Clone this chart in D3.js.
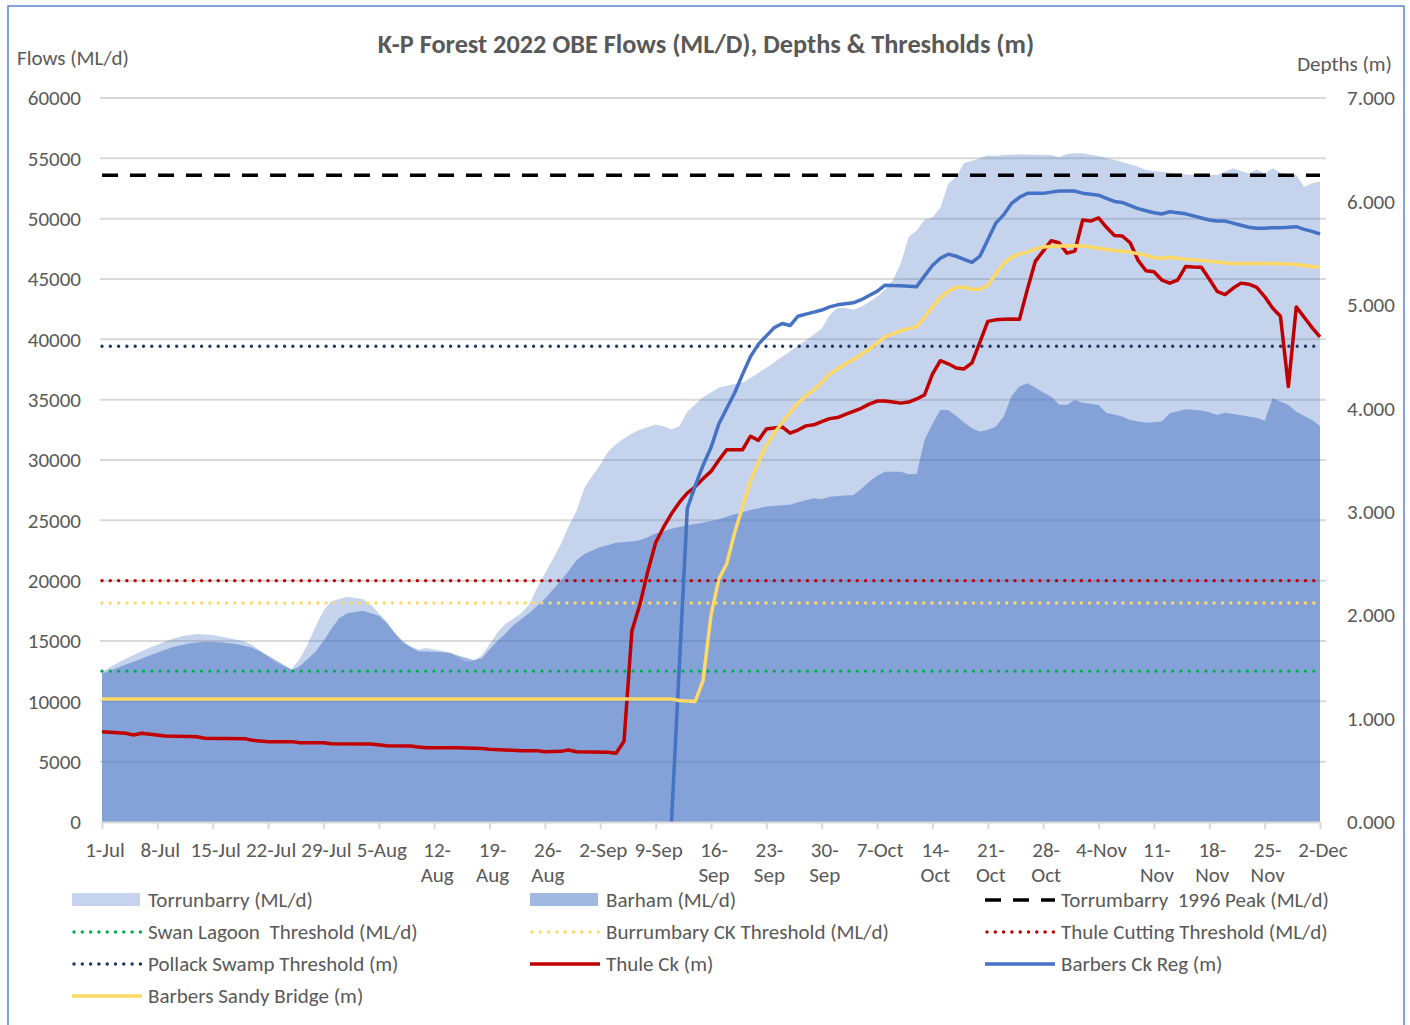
<!DOCTYPE html>
<html>
<head>
<meta charset="utf-8">
<script src="https://cdn.jsdelivr.net/npm/d3@7"></script>
<style>
  body { margin: 0; background: #fff; }
  svg text { font-family: Carlito, Calibri, Lato, sans-serif; fill: #595959; white-space: pre; }
</style>
</head>
<body>
<div id="chart"></div>
<script>
// day offsets are counted from 1-Jul-2022
const tickLabels = ["1-Jul","8-Jul","15-Jul","22-Jul","29-Jul","5-Aug","12-|Aug","19-|Aug","26-|Aug",
  "2-Sep","9-Sep","16-|Sep","23-|Sep","30-|Sep","7-Oct","14-|Oct","21-|Oct","28-|Oct","4-Nov",
  "11-|Nov","18-|Nov","25-|Nov","2-Dec"];

// flows (ML/d)
const torrunbarry = [[0,12450],[2,13200],[4,13850],[6,14450],[8,14950],[10,15400],[12,15580],[14,15500],
  [16,15250],[18,14950],[19,14670],[21,13700],[22,13200],[24,12680],[25,13500],[26,14700],[27,16200],
  [28,17500],[29,18300],[31,18670],[33,18450],[34,18000],[36,16600],[38,14830],[40,14300],[41,14420],
  [43,14200],[44,14000],[46,13300],[47,13350],[48,13800],[49,14700],[50,15700],[51,16400],[53,17300],
  [54,18000],[55,19400],[56,20600],[57,21800],[58,23000],[59,24500],[60,25800],[61,27700],[62,28700],
  [63,29600],[64,30700],[65,31300],[66,31800],[67,32200],[68,32500],[70,32950],[71,32800],[72,32550],
  [73,32800],[74,34000],[75,34600],[76,35200],[77,35600],[78,36000],[79,36150],[80,36300],[81,36400],
  [82,36800],[83,37200],[84,37650],[85,38100],[86,38560],[87,39000],[88,39500],[89,39900],[90,40400],
  [91,40900],[92,42000],[93,42600],[94,42600],[95,42450],[96,42700],[97,43100],[98,43550],[99,44100],
  [100,44900],[101,46300],[102,48500],[103,49000],[104,49900],[105,50100],[106,50900],[107,52900],
  [108,53500],[109,54600],[110,54800],[111,55000],[112,55250],[113,55200],[114,55280],[116,55330],
  [118,55300],[120,55280],[121,55090],[122,55350],[123,55420],[124,55420],[125,55300],[126,55190],
  [127,55000],[128,54860],[129,54700],[130,54500],[131,54300],[132,54030],[133,53950],[134,53890],
  [135,53800],[136,53750],[137,53650],[138,53620],[141,53620],[142,53900],[143,54170],[144,53950],
  [145,53750],[146,54080],[147,53750],[148,54170],[149,53800],[150,53620],[151,53620],[152,52650],
  [153,52930],[154,53070]];

const barham = [[0,12300],[2,12800],[4,13280],[6,13800],[9,14500],[11,14800],[13,14940],[15,14900],
  [17,14750],[19,14450],[20,14150],[22,13400],[24,12600],[25,12900],[26,13500],[27,14100],[28,15000],
  [29,16000],[30,16900],[31,17300],[33,17510],[35,17100],[36,16500],[37,15660],[38,15000],[39,14500],
  [40,14150],[42,14100],[44,14030],[45,13800],[47,13430],[48,13550],[49,14300],[50,15000],[51,15600],
  [52,16300],[54,17300],[56,18500],[58,20000],[59,20800],[60,21700],[61,22200],[62,22500],[63,22800],
  [64,22960],[65,23150],[67,23250],[68,23350],[69,23600],[70,23900],[72,24300],[74,24600],[76,24800],
  [78,25100],[80,25500],[82,25850],[84,26150],[86,26250],[87,26300],[88,26500],[90,26820],[91,26740],
  [92,26950],[94,27050],[95,27100],[96,27600],[97,28200],[98,28700],[99,29030],[101,29030],[102,28820],
  [103,28850],[104,31660],[105,33000],[106,34140],[107,34140],[108,33650],[109,33100],[110,32630],
  [111,32350],[112,32500],[113,32760],[114,33590],[115,35300],[116,36100],[117,36360],[118,35990],
  [119,35600],[120,35250],[121,34600],[122,34560],[123,34970],[124,34750],[126,34560],[127,33920],
  [129,33600],[130,33310],[132,33090],[134,33200],[135,33870],[137,34200],[139,34100],[140,33950],
  [141,33730],[142,33920],[144,33700],[146,33500],[147,33260],[148,35110],[150,34550],[151,34000],
  [153,33310],[154,32820]];

// depths (m)
const thuleCk = [[0,0.873],[3,0.858],[4,0.841],[5,0.858],[8,0.831],[12,0.825],[13,0.809],[18,0.806],
  [19,0.790],[21,0.777],[24,0.777],[25,0.767],[28,0.767],[29,0.757],[34,0.754],[36,0.738],[39,0.735],
  [40,0.725],[41,0.718],[45,0.718],[48,0.710],[49,0.703],[53,0.690],[55,0.690],[56,0.680],[58,0.683],
  [59,0.696],[60,0.680],[64,0.674],[65,0.664],[66,0.78],[67,1.85],[68,2.10],[69,2.42],[70,2.70],
  [71,2.85],[72,2.98],[73,3.09],[74,3.18],[75,3.24],[76,3.32],[77,3.39],[78,3.50],[79,3.60],[80,3.60],
  [81,3.60],[82,3.73],[83,3.69],[84,3.80],[85,3.81],[86,3.82],[87,3.76],[88,3.79],[89,3.83],[90,3.84],
  [91,3.87],[92,3.90],[93,3.91],[94,3.94],[95,3.97],[96,4.00],[97,4.04],[98,4.07],[99,4.07],[100,4.06],
  [101,4.05],[102,4.06],[103,4.09],[104,4.13],[105,4.33],[106,4.46],[107,4.43],[108,4.39],[109,4.38],
  [110,4.44],[111,4.64],[112,4.84],[113,4.855],[114,4.86],[115,4.863],[116,4.86],[117,5.15],[118,5.42],
  [119,5.52],[120,5.62],[121,5.60],[122,5.50],[123,5.52],[124,5.82],[125,5.81],[126,5.84],[127,5.75],
  [128,5.67],[129,5.666],[130,5.60],[131,5.43],[132,5.33],[133,5.32],[134,5.24],[135,5.21],[136,5.24],
  [137,5.37],[138,5.365],[139,5.363],[140,5.25],[141,5.13],[142,5.10],[143,5.16],[144,5.21],[145,5.20],
  [146,5.17],[147,5.08],[148,4.97],[149,4.89],[150,4.21],[151,4.98],[152,4.88],[153,4.78],[154,4.69]];

const barbersCkReg = [[72,0.00],[74,3.03],[75,3.25],[76,3.45],[77,3.62],[78,3.85],[79,4.00],[80,4.15],
  [81,4.33],[82,4.50],[83,4.62],[84,4.70],[85,4.78],[86,4.82],[87,4.80],[88,4.89],[89,4.91],[90,4.93],
  [91,4.95],[92,4.98],[93,5.00],[94,5.01],[95,5.02],[96,5.05],[97,5.09],[98,5.13],[99,5.19],[100,5.186],
  [101,5.185],[102,5.18],[103,5.176],[104,5.28],[105,5.38],[106,5.45],[107,5.49],[108,5.47],[109,5.44],
  [110,5.41],[111,5.47],[112,5.63],[113,5.79],[114,5.87],[115,5.98],[116,6.04],[117,6.078],[119,6.078],
  [120,6.09],[121,6.10],[123,6.10],[124,6.08],[125,6.07],[126,6.06],[127,6.03],[128,6.00],[129,5.99],
  [130,5.96],[131,5.93],[132,5.91],[133,5.89],[134,5.878],[135,5.90],[136,5.89],[137,5.88],[138,5.86],
  [139,5.84],[140,5.82],[141,5.81],[142,5.81],[143,5.79],[144,5.77],[145,5.75],[146,5.74],[147,5.74],
  [148,5.745],[149,5.746],[150,5.75],[151,5.756],[152,5.73],[153,5.71],[154,5.685]];

const barbersSandyBridge = [[0,1.19],[72,1.19],[73,1.175],[74,1.17],[75,1.165],[76,1.37],[77,2.00],
  [78,2.35],[79,2.50],[80,2.80],[81,3.05],[82,3.30],[83,3.48],[84,3.64],[85,3.76],[86,3.86],[87,3.96],
  [88,4.05],[89,4.12],[90,4.18],[91,4.25],[92,4.33],[93,4.38],[94,4.43],[95,4.47],[96,4.52],[97,4.57],
  [98,4.63],[99,4.69],[100,4.72],[101,4.75],[102,4.77],[103,4.79],[104,4.88],[105,4.98],[106,5.07],
  [107,5.13],[108,5.17],[109,5.17],[110,5.15],[111,5.15],[112,5.19],[113,5.30],[114,5.40],[115,5.46],
  [116,5.49],[117,5.51],[118,5.54],[119,5.56],[120,5.565],[121,5.57],[123,5.572],[124,5.57],[125,5.56],
  [126,5.547],[127,5.535],[128,5.525],[130,5.51],[132,5.48],[133,5.455],[134,5.45],[135,5.46],
  [136,5.45],[137,5.44],[139,5.43],[141,5.415],[142,5.405],[143,5.40],[148,5.40],[150,5.395],[151,5.39],
  [152,5.38],[153,5.37],[154,5.363]];

// thresholds
const peak1996 = 53600;       // ML/d
const swanLagoon = 12500;     // ML/d
const burrumbaryCk = 18150;   // ML/d
const thuleCutting = 20000;   // ML/d
const pollackSwamp = 4.6;     // m

const width = 1410, height = 1025;
const start = new Date(2022, 6, 1);
const day = d => d3.timeDay.offset(start, d);
const lastDay = 154;
const fs = 21; // font size of axis / legend text

const svg = d3.select("#chart").append("svg")
  .attr("width", width).attr("height", height);

// chart frame
svg.append("rect")
  .attr("x", 8).attr("y", 6).attr("width", 1396).attr("height", 1040)
  .attr("fill", "none").attr("stroke", "#5B87CF").attr("stroke-width", 1.5);

const x = d3.scaleTime().domain([start, day(lastDay)]).range([102, 1320]);
const yFlow = d3.scaleLinear().domain([0, 60000]).range([822, 98]);
const yDepth = d3.scaleLinear().domain([0, 7]).range([822, 98]);

// gridlines
svg.append("g").selectAll("line")
  .data(d3.range(5000, 60001, 5000))
  .join("line")
  .attr("x1", 100).attr("x2", 1326)
  .attr("y1", d => yFlow(d)).attr("y2", d => yFlow(d))
  .attr("stroke", "#D9D9D9").attr("stroke-width", 2);

// areas
const area = d3.area().x(d => x(day(d[0]))).y0(yFlow(0)).y1(d => yFlow(d[1]));
svg.append("path").datum(torrunbarry).attr("d", area)
  .attr("fill", "#4472C4").attr("fill-opacity", 0.31);
svg.append("path").datum(barham).attr("d", area)
  .attr("fill", "#4472C4").attr("fill-opacity", 0.5);

// thresholds
const thresholds = [
  { name: "Torrumbarry  1996 Peak (ML/d)", y: yFlow(peak1996), color: "#000000", dash: "16 12", cap: "butt" },
  { name: "Swan Lagoon  Threshold (ML/d)", y: yFlow(swanLagoon), color: "#00B050", dash: "0 8.3", cap: "round" },
  { name: "Burrumbary CK Threshold (ML/d)", y: yFlow(burrumbaryCk), color: "#FFD966", dash: "0 8.3", cap: "round" },
  { name: "Thule Cutting Threshold (ML/d)", y: yFlow(thuleCutting), color: "#C00000", dash: "0 8.3", cap: "round" },
  { name: "Pollack Swamp Threshold (m)", y: yDepth(pollackSwamp), color: "#203864", dash: "0 8.3", cap: "round" }
];
svg.append("g").selectAll("line")
  .data(thresholds)
  .join("line")
  .attr("x1", x(day(0))).attr("x2", x(day(lastDay)))
  .attr("y1", d => d.y).attr("y2", d => d.y)
  .attr("stroke", d => d.color)
  .attr("stroke-width", d => d.cap === "round" ? 3.4 : 3.5)
  .attr("stroke-dasharray", d => d.dash)
  .attr("stroke-linecap", d => d.cap);

// depth lines
const depthLine = d3.line().x(d => x(day(d[0]))).y(d => yDepth(d[1]));
const depthSeries = [
  { name: "Thule Ck (m)", data: thuleCk, color: "#C00000" },
  { name: "Barbers Ck Reg (m)", data: barbersCkReg, color: "#4472C4" },
  { name: "Barbers Sandy Bridge (m)", data: barbersSandyBridge, color: "#FFD966" }
];
depthSeries.forEach(s => {
  svg.append("path").datum(s.data).attr("d", depthLine)
    .attr("fill", "none").attr("stroke", s.color)
    .attr("stroke-width", 3.5).attr("stroke-linejoin", "round");
});

// x axis
const tickDays = d3.range(0, lastDay + 1, 7);
svg.append("g")
  .attr("transform", "translate(0,822)")
  .call(d3.axisBottom(x).tickValues(tickDays.map(day)).tickSize(7).tickSizeOuter(0).tickFormat(""))
  .call(g => g.selectAll("line, path").attr("stroke", "#D9D9D9").attr("stroke-width", 2));

const xLabels = svg.append("g").attr("font-size", fs).attr("text-anchor", "middle");
tickDays.forEach((d, i) => {
  const t = xLabels.append("text").attr("x", x(day(d)) + 3).attr("y", 857);
  tickLabels[i].split("|").forEach((s, j) => {
    t.append("tspan").attr("x", x(day(d)) + 3).attr("dy", j ? 25 : 0).text(s);
  });
});

// left axis
svg.append("g")
  .attr("transform", "translate(102,0)")
  .call(d3.axisLeft(yFlow).tickValues(d3.range(0, 60001, 5000)).tickSize(0).tickPadding(21).tickFormat(d3.format("d")))
  .call(g => g.select(".domain").remove())
  .call(g => g.selectAll("text").attr("font-size", fs).attr("fill", "#595959").attr("font-family", null));

// right axis
svg.append("g")
  .attr("transform", "translate(1326,0)")
  .call(d3.axisRight(yDepth).tickValues(d3.range(0, 8)).tickSize(0).tickPadding(21).tickFormat(d3.format(".3f")))
  .call(g => g.select(".domain").remove())
  .call(g => g.selectAll("text").attr("font-size", fs).attr("fill", "#595959").attr("font-family", null));

// titles
svg.append("text").attr("x", 706).attr("y", 53).attr("text-anchor", "middle")
  .attr("font-size", 26.3).attr("font-weight", "bold")
  .text("K-P Forest 2022 OBE Flows (ML/D), Depths & Thresholds (m)");
svg.append("text").attr("x", 17).attr("y", 65).attr("font-size", fs).text("Flows (ML/d)");
svg.append("text").attr("x", 1392).attr("y", 71).attr("text-anchor", "end").attr("font-size", fs).text("Depths (m)");

// legend
const legendItems = [
  { name: "Torrunbarry (ML/d)", type: "area", opacity: 0.31, color: "#4472C4" },
  { name: "Barham (ML/d)", type: "area", opacity: 0.5, color: "#4472C4" },
  ...thresholds.map(t => ({ name: t.name, type: "line", color: t.color, dash: t.dash, cap: t.cap })),
  ...depthSeries.map(s => ({ name: s.name, type: "line", color: s.color, dash: null, cap: "butt" }))
];
const colX = [72, 530, 985];
const legend = svg.append("g").attr("font-size", fs);
legendItems.forEach((item, i) => {
  const cx = colX[i % 3], cy = 900 + Math.floor(i / 3) * 32;
  if (item.type === "area") {
    legend.append("rect").attr("x", cx).attr("y", cy - 7).attr("width", 68).attr("height", 13)
      .attr("fill", item.color).attr("fill-opacity", item.opacity);
  } else {
    legend.append("line").attr("x1", cx + (item.cap === "round" ? 2 : 0)).attr("x2", cx + 70)
      .attr("y1", cy).attr("y2", cy)
      .attr("stroke", item.color).attr("stroke-width", 3.5)
      .attr("stroke-dasharray", item.dash).attr("stroke-linecap", item.cap);
  }
  legend.append("text").attr("x", cx + 76).attr("y", cy + 7).text(item.name);
});
</script>
</body>
</html>
